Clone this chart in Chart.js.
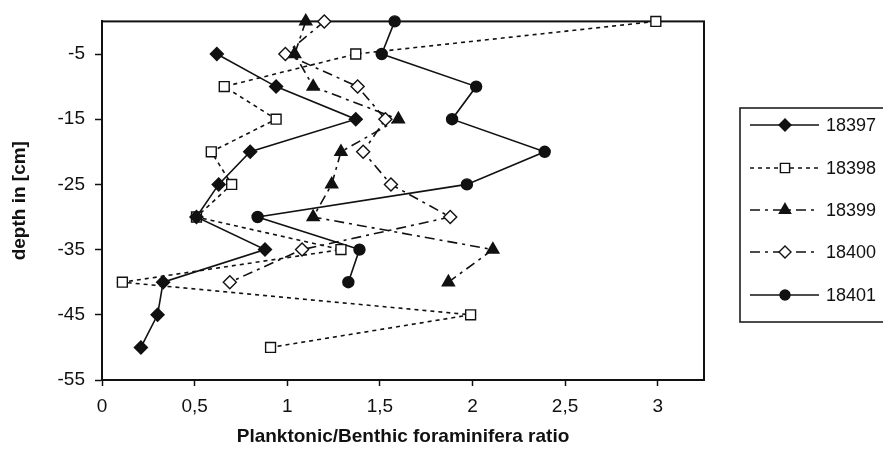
<!DOCTYPE html>
<html>
<head>
<meta charset="utf-8">
<script src="https://cdn.jsdelivr.net/npm/chart.js@4.4.1/dist/chart.umd.min.js"></script>
<style>
  html, body { margin: 0; padding: 0; background: #fff; }
  #wrap { width: 883px; height: 453px; }
</style>
</head>
<body>
<div id="wrap"><canvas id="chart" width="883" height="453"></canvas></div>
<script>
// depth of each sample (cm)
const depths = [0, -5, -10, -15, -20, -25, -30, -35, -40, -45, -50];

// P/B ratio per core
const core18397 = [null, 0.62, 0.94, 1.37, 0.80, 0.63, 0.51, 0.88, 0.33, 0.30, 0.21];
const core18398 = [2.99, 1.37, 0.66, 0.94, 0.59, 0.70, 0.51, 1.29, 0.11, 1.99, 0.91];
const core18399 = [1.10, 1.04, 1.14, 1.60, 1.29, 1.24, 1.14, 2.11, 1.87];
const core18400 = [1.20, 0.99, 1.38, 1.53, 1.41, 1.56, 1.88, 1.08, 0.69];
const core18401 = [1.58, 1.51, 2.02, 1.89, 2.39, 1.97, 0.84, 1.39, 1.33];

const coreNames = ['18397', '18398', '18399', '18400', '18401'];
const xTicks = [0, 0.5, 1, 1.5, 2, 2.5, 3];
const yTicks = [-55, -45, -35, -25, -15, -5];

const ink = '#111';
const font = 'Liberation Sans, Arial, Helvetica, sans-serif';

function toPoints(vals) {
  const pts = [];
  vals.forEach((v, i) => { if (v !== null) pts.push({ x: v, y: depths[i] }); });
  return pts;
}

function series(label, vals, style) {
  return Object.assign({
    label: label,
    data: toPoints(vals),
    showLine: true,
    borderColor: ink,
    borderWidth: 1.6,
    pointBorderColor: ink,
    pointBorderWidth: 1.4,
    clip: false
  }, style);
}

const datasets = [
  series(coreNames[0], core18397, { pointStyle: 'rectRot', pointRadius: 6.5, pointBackgroundColor: ink }),
  series(coreNames[1], core18398, { borderDash: [4, 4], pointStyle: 'rect', pointRadius: 7, pointBackgroundColor: '#fff' }),
  series(coreNames[2], core18399, { borderDash: [10, 5, 3, 5], pointStyle: 'triangle', pointRadius: 7, pointBackgroundColor: ink }),
  series(coreNames[3], core18400, { borderDash: [10, 5, 3, 5], pointStyle: 'rectRot', pointRadius: 6.5, pointBackgroundColor: '#fff' }),
  series(coreNames[4], core18401, { pointStyle: 'circle', pointRadius: 5.5, pointBackgroundColor: ink })
];

// frame around the plot area
const frame = {
  id: 'frame',
  beforeDatasetsDraw(chart) {
    const { ctx, chartArea: a } = chart;
    ctx.save();
    ctx.strokeStyle = ink;
    ctx.lineWidth = 2;
    ctx.strokeRect(a.left, a.top, a.right - a.left, a.bottom - a.top);
    ctx.restore();
  }
};

// legend in the old spreadsheet style: line sample with the marker in the middle
const boxLegend = {
  id: 'boxLegend',
  afterDraw(chart) {
    const ctx = chart.ctx;
    const rowsY = [125, 168, 210, 252, 295];
    ctx.save();
    ctx.strokeStyle = ink;
    ctx.lineWidth = 1.5;
    ctx.strokeRect(740, 108, 200, 214);
    chart.data.datasets.forEach((ds, i) => {
      const y = rowsY[i];
      ctx.save();
      ctx.strokeStyle = ink;
      ctx.lineWidth = ds.borderWidth;
      ctx.setLineDash(ds.borderDash || []);
      ctx.beginPath();
      ctx.moveTo(750, y);
      ctx.lineTo(819, y);
      ctx.stroke();
      ctx.setLineDash([]);
      ctx.fillStyle = ds.pointBackgroundColor;
      ctx.strokeStyle = ink;
      ctx.lineWidth = ds.pointBorderWidth;
      Chart.helpers.drawPoint(ctx, {
        pointStyle: ds.pointStyle,
        radius: ds.pointRadius - 0.5,
        rotation: 0,
        borderWidth: ds.pointBorderWidth
      }, 785, y);
      ctx.fillStyle = ink;
      ctx.font = '18px ' + font;
      ctx.textBaseline = 'middle';
      ctx.textAlign = 'left';
      ctx.fillText(ds.label, 826, y + 1);
      ctx.restore();
    });
    ctx.restore();
  }
};

new Chart(document.getElementById('chart'), {
  type: 'scatter',
  data: { datasets: datasets },
  options: {
    responsive: false,
    animation: false,
    layout: { padding: { left: 0, right: 179, top: 15, bottom: 0 } },
    plugins: { legend: { display: false }, tooltip: { enabled: false } },
    scales: {
      x: {
        type: 'linear',
        min: 0,
        max: 3.25,
        afterBuildTicks: s => { s.ticks = xTicks.map(v => ({ value: v })); },
        afterFit: s => { s.height = 73; },
        ticks: {
          color: ink,
          padding: 9,
          font: { family: font, size: 19 },
          callback: v => String(v).replace('.', ',')
        },
        grid: { drawOnChartArea: false, tickLength: 6, color: ink, tickWidth: 1.5 },
        border: { color: ink, width: 2 },
        title: {
          display: true,
          text: 'Planktonic/Benthic foraminifera ratio',
          color: ink,
          padding: { top: 0, bottom: 5 },
          font: { family: font, size: 19, weight: 'bold' }
        }
      },
      y: {
        type: 'linear',
        min: -55,
        max: 0,
        afterBuildTicks: s => { s.ticks = yTicks.map(v => ({ value: v })); },
        afterFit: s => { s.width = 102; },
        ticks: {
          color: ink,
          padding: 10,
          font: { family: font, size: 19 }
        },
        grid: { drawOnChartArea: false, tickLength: 7, color: ink, tickWidth: 1.5 },
        border: { color: ink, width: 2 },
        title: {
          display: true,
          text: 'depth in [cm]',
          color: ink,
          padding: { top: 8, bottom: 0 },
          font: { family: font, size: 19, weight: 'bold' }
        }
      }
    }
  },
  plugins: [frame, boxLegend]
});
</script>
</body>
</html>
